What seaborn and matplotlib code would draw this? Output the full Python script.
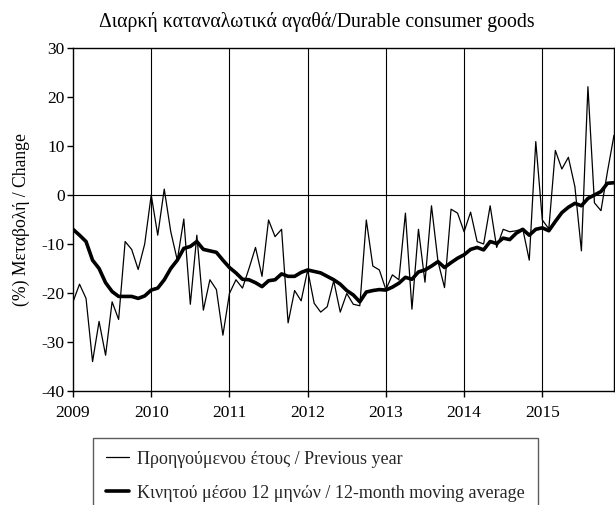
import matplotlib
matplotlib.use("Agg")
import matplotlib.pyplot as plt
import seaborn as sns
import pandas as pd
import numpy as np

years = ["2009", "2010", "2011", "2012", "2013", "2014", "2015"]
yticks = [30, 20, 10, 0, -10, -20, -30, -40]
ytick_labels = ["30", "20", "10", "0", "-10", "-20", "-30", "-40"]

prev_year = [-21.8, -18.2, -21.1, -34.0, -25.8, -32.7, -21.8, -25.4, -9.5, -11.1, -15.2, -10.0,
             0.0, -8.2, 1.2, -7.5, -13.3, -4.9, -22.3, -8.2, -23.5, -17.3, -19.3, -28.6,
             -20.1, -17.3, -19.0, -15.0, -10.7, -16.6, -5.1, -8.5, -7.0, -26.1, -19.5, -21.6,
             -15.3, -22.1, -23.9, -22.8, -17.5, -23.9, -20.1, -22.3, -22.6, -5.1, -14.5, -15.3,
             -19.3, -16.3, -17.3, -3.7, -23.3, -7.0, -17.8, -2.2, -13.6, -18.9, -2.9, -3.7,
             -7.5, -3.5, -9.5, -10.0, -2.2, -10.7, -7.0, -7.5, -7.3, -6.9, -13.3, 10.9,
             -5.1, -6.9, 9.1, 5.3, 7.7, 1.7, -11.4, 22.1, -1.6, -3.2, 4.8, 12.2]

moving_avg = [-7.0, -8.2, -9.5, -13.3, -15.0, -17.9, -19.7, -20.7, -20.7, -20.7, -21.1, -20.6,
              -19.4, -19.0, -17.3, -15.0, -13.3, -10.9, -10.5, -9.5, -11.1, -11.4, -11.7, -13.3,
              -14.8, -15.9, -17.2, -17.3, -17.9, -18.7, -17.5, -17.3, -16.1, -16.6, -16.6, -15.8,
              -15.3, -15.6, -15.9, -16.6, -17.3, -18.2, -19.5, -20.4, -21.8, -19.8, -19.5, -19.3,
              -19.4, -18.8, -18.0, -16.8, -17.2, -15.7, -15.3, -14.5, -13.6, -14.8, -13.8, -12.9,
              -12.2, -11.1, -10.7, -11.2, -9.5, -9.9, -8.8, -9.1, -7.8, -7.0, -8.2, -7.0,
              -6.7, -7.3, -5.4, -3.6, -2.5, -1.7, -2.2, -0.7, 0.0, 0.7, 2.4, 2.5]

label_prev = "Προηγούμενου έτους / Previous year"
label_ma = "Κινητού μέσου 12 μηνών / 12-month moving average"
title = "Διαρκή καταναλωτικά αγαθά/Durable consumer goods"
ylabel = "(%) Μεταβολή / Change"

months = np.arange(len(prev_year))
df = pd.DataFrame({"month": months, "prev": prev_year, "ma": moving_avg})

sns.set_theme(style="white")
plt.rcParams["font.family"] = ["Liberation Serif", "DejaVu Serif"]

fig = plt.figure(figsize=(6.15, 5.05), dpi=100)
ax = fig.add_axes([73/615, 1-391/505, (614-73)/615, (391-48)/505])

sns.lineplot(data=df, x="month", y="prev", ax=ax, color="black", linewidth=0.9, label=label_prev)
sns.lineplot(data=df, x="month", y="ma", ax=ax, color="black", linewidth=2.6, label=label_ma)

ax.set_xlim(0, len(prev_year) - 1)
ax.set_ylim(-40, 30)
xt = np.arange(0, len(prev_year), 12)
ax.set_xticks(xt)
ax.set_xticklabels(years)
ax.set_yticks(yticks)
ax.set_yticklabels(ytick_labels)
for x in xt[1:]:
    ax.axvline(x, color="black", linewidth=0.8, zorder=0)
ax.axhline(0, color="black", linewidth=0.8, zorder=0)

for s in ax.spines.values():
    s.set_color("black")
    s.set_linewidth(1.0)
ax.tick_params(axis="both", direction="out", length=4, width=1, color="black",
               labelsize=12.5, labelcolor="black", bottom=True, left=True)
ax.tick_params(axis="x", pad=6)
ax.tick_params(axis="y", pad=2)
ax.set_xlabel("")
ax.set_ylabel(ylabel, fontsize=12.7, color="black", labelpad=8)

handles, labels = ax.get_legend_handles_labels()
ax.get_legend().remove()
leg = fig.legend(handles, labels, loc="upper left", bbox_to_anchor=(93/615, 1-438/505),
                 frameon=True, fancybox=False, edgecolor="#333333", fontsize=13,
                 handlelength=1.3, handletextpad=0.45, borderpad=0.7, labelspacing=0.95,
                 borderaxespad=0)
leg.get_frame().set_linewidth(1.0)

fig.text(317/615, 1-22/505, title, ha="center", va="center", fontsize=14.2, color="black")

fig.savefig("out.png", dpi=100)
